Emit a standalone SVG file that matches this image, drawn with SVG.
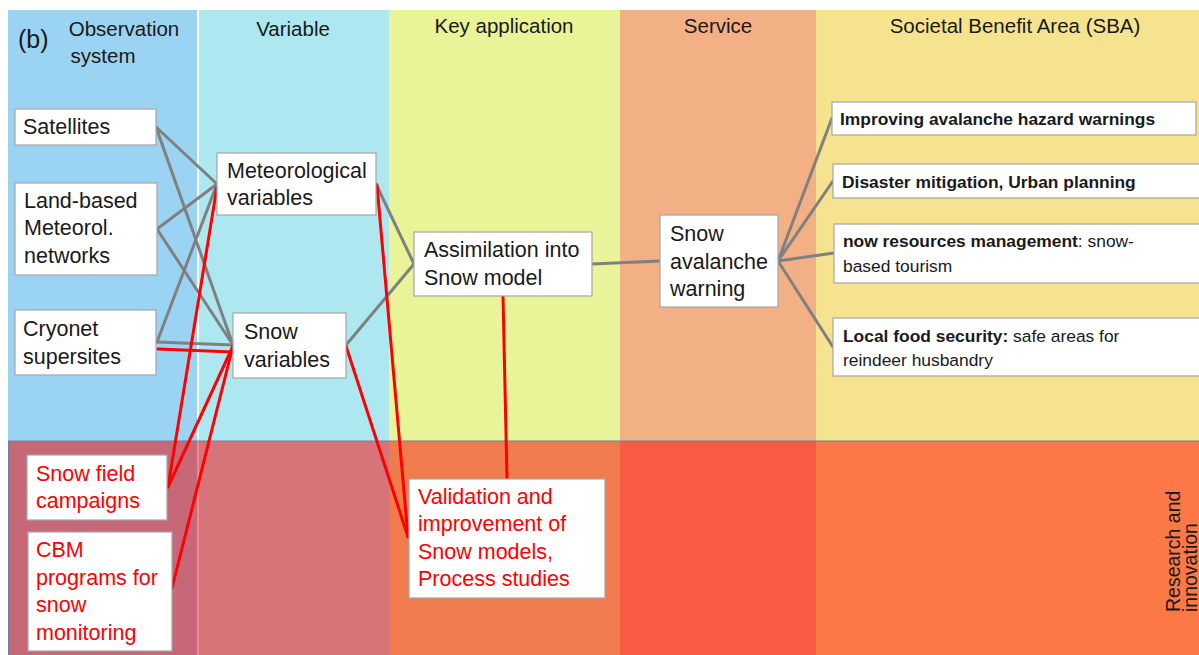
<svg xmlns="http://www.w3.org/2000/svg" width="1199" height="655" viewBox="0 0 1199 655">
<style>
text{font-family:"Liberation Sans",Arial,sans-serif;fill:#1a1a1a}
.hd{font-size:20.5px}
.nt{font-size:21.5px}
.rt{font-size:21.5px;fill:#ff0000}
.sb{font-size:17.4px}
.b{font-weight:bold}
.box{fill:#ffffff;stroke:#a6a6a6;stroke-width:1.2}
.g{stroke:#808080;stroke-width:3;fill:none;stroke-linecap:round}
.r{stroke:#ff0000;stroke-width:3;fill:none;stroke-linecap:round}
</style>
<rect x="0" y="0" width="1199" height="655" fill="#ffffff"/>
<g id="background">
<rect x="8" y="10" width="189" height="431" fill="#9bd3f2"/>
<rect x="199" y="10" width="190" height="431" fill="#ade8f0"/>
<rect x="389" y="10" width="231" height="431" fill="#e9f398"/>
<rect x="620" y="10" width="196" height="431" fill="#f2b084"/>
<rect x="816" y="10" width="383" height="431" fill="#f5e38f"/>
<rect x="8" y="441" width="189" height="214" fill="#c76878"/>
<rect x="199" y="441" width="190" height="214" fill="#d57479"/>
<rect x="197" y="441" width="2" height="214" fill="#f08a8a"/>
<rect x="389" y="441" width="231" height="214" fill="#f07c4d"/>
<rect x="620" y="441" width="196" height="214" fill="#f85a42"/>
<rect x="816" y="441" width="383" height="214" fill="#fc7846"/>
<line x1="8" y1="441" x2="1199" y2="441" stroke="#6f7fa0" stroke-width="1.2"/>
<line x1="8.5" y1="441" x2="8.5" y2="655" stroke="#6f7fa0" stroke-width="1"/>
</g>
<g id="headers">
<text x="18" y="48" style="font-size:25px">(b)</text>
<text x="124" y="36" class="hd" text-anchor="middle">Observation</text>
<text x="103" y="63" class="hd" text-anchor="middle">system</text>
<text x="293" y="36" class="hd" text-anchor="middle">Variable</text>
<text x="504" y="33" class="hd" text-anchor="middle">Key application</text>
<text x="718" y="33" class="hd" text-anchor="middle">Service</text>
<text x="1015" y="33" class="hd" text-anchor="middle">Societal Benefit Area (SBA)</text>
<text transform="translate(1180,612) rotate(-90)" style="font-size:19.5px">Research and</text>
<text transform="translate(1197,612) rotate(-90)" style="font-size:19.5px">innovation</text>
</g>
<g id="connectors">
<line class="g" x1="156" y1="127" x2="217" y2="184"/>
<line class="g" x1="156" y1="127" x2="233" y2="345"/>
<line class="g" x1="157" y1="229" x2="217" y2="184"/>
<line class="g" x1="157" y1="229" x2="233" y2="345"/>
<line class="g" x1="157" y1="342" x2="217" y2="184"/>
<line class="g" x1="157" y1="342" x2="233" y2="345"/>
<line class="g" x1="376" y1="184" x2="414" y2="264"/>
<line class="g" x1="346" y1="345" x2="414" y2="264"/>
<line class="g" x1="592" y1="264" x2="660" y2="261"/>
<line class="g" x1="778" y1="261" x2="832" y2="118"/>
<line class="g" x1="778" y1="261" x2="833" y2="181"/>
<line class="g" x1="778" y1="261" x2="834" y2="253"/>
<line class="g" x1="778" y1="261" x2="833" y2="347"/>
<line class="r" x1="217" y1="187" x2="168" y2="487"/>
<line class="r" x1="233" y1="346" x2="168" y2="487"/>
<line class="r" x1="233" y1="346" x2="172" y2="588"/>
<line class="r" x1="158" y1="349" x2="233" y2="352"/>
<line class="r" x1="377" y1="185" x2="408" y2="537"/>
<line class="r" x1="346" y1="346" x2="408" y2="537"/>
<line class="r" x1="503" y1="296" x2="507" y2="479"/>
</g>
<g id="n-satellites"><rect class="box" x="15" y="109" width="141" height="36"/><text class="nt" x="23" y="134">Satellites</text></g>
<g id="n-landbased"><rect class="box" x="15" y="183" width="142" height="92"/><text class="nt" x="24" y="208">Land-based</text><text class="nt" x="24" y="235">Meteorol.</text><text class="nt" x="24" y="263">networks</text></g>
<g id="n-cryonet"><rect class="box" x="15" y="310" width="141" height="65"/><text class="nt" x="23" y="336">Cryonet</text><text class="nt" x="23" y="364">supersites</text></g>
<g id="n-metvars"><rect class="box" x="217" y="153" width="159" height="62"/><text class="nt" x="227" y="178">Meteorological</text><text class="nt" x="227" y="205">variables</text></g>
<g id="n-snowvars"><rect class="box" x="233" y="313" width="113" height="65"/><text class="nt" x="244" y="339">Snow</text><text class="nt" x="244" y="367">variables</text></g>
<g id="n-assim"><rect class="box" x="414" y="232" width="178" height="64"/><text class="nt" x="424" y="257">Assimilation into</text><text class="nt" x="424" y="285">Snow model</text></g>
<g id="n-avalanche"><rect class="box" x="660" y="215" width="118" height="92"/><text class="nt" x="670" y="241">Snow</text><text class="nt" x="670" y="269">avalanche</text><text class="nt" x="670" y="296">warning</text></g>
<g id="n-sba1"><rect class="box" x="832" y="102" width="364" height="33"/><text class="sb b" x="840" y="125">Improving avalanche hazard warnings</text></g>
<g id="n-sba2"><rect class="box" x="833" y="164" width="370" height="34"/><text class="sb b" x="842" y="188">Disaster mitigation, Urban planning</text></g>
<g id="n-sba3"><rect class="box" x="834" y="224" width="370" height="59"/><text class="sb" x="843" y="247"><tspan class="b">now resources management</tspan>: snow-</text><text class="sb" x="843" y="272">based tourism</text></g>
<g id="n-sba4"><rect class="box" x="833" y="318" width="370" height="58"/><text class="sb" x="843" y="342"><tspan class="b">Local food security:</tspan> safe areas for</text><text class="sb" x="843" y="366">reindeer husbandry</text></g>
<g id="n-fieldcamp"><rect class="box" x="27" y="455" width="140" height="65"/><text class="rt" x="36" y="481">Snow field</text><text class="rt" x="36" y="508">campaigns</text></g>
<g id="n-cbm"><rect class="box" x="28" y="532" width="144" height="119"/><text class="rt" x="36" y="557">CBM</text><text class="rt" x="36" y="585">programs for</text><text class="rt" x="36" y="612">snow</text><text class="rt" x="36" y="640">monitoring</text></g>
<g id="n-validation"><rect class="box" x="409" y="479" width="196" height="119"/><text class="rt" x="418" y="504">Validation and</text><text class="rt" x="418" y="531">improvement of</text><text class="rt" x="418" y="559">Snow models,</text><text class="rt" x="418" y="586">Process studies</text></g>
</svg>
